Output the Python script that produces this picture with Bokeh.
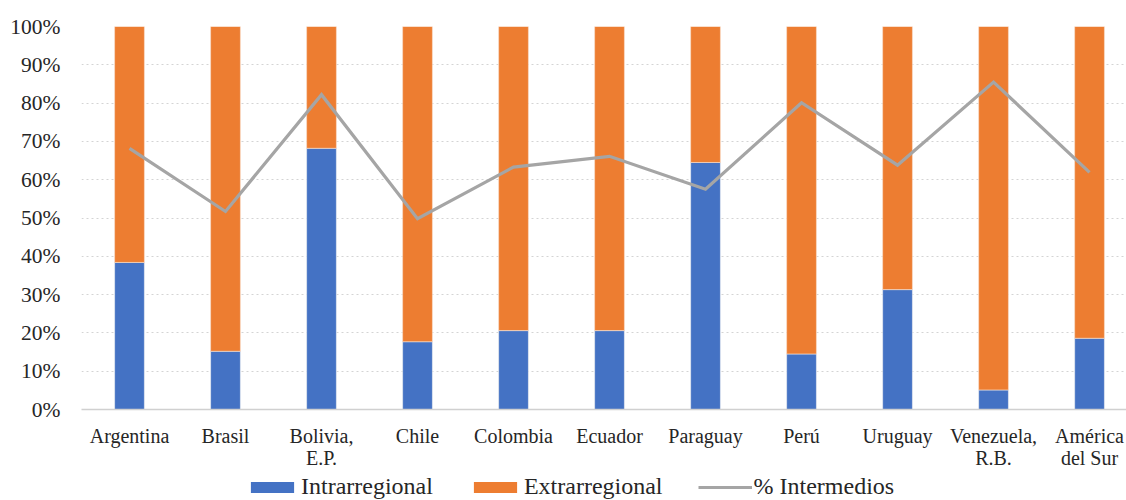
from bokeh.plotting import figure
from bokeh.layouts import column
from bokeh.models import (ColumnDataSource, Range1d, FixedTicker, NumeralTickFormatter,
                          Legend, LegendItem)
from bokeh.embed import file_html
from bokeh.resources import INLINE

# Trade composition by country (shares, %)
countries = ["Argentina", "Brasil", "Bolivia,\nE.P.", "Chile", "Colombia", "Ecuador",
             "Paraguay", "Perú", "Uruguay", "Venezuela,\nR.B.", "América\ndel Sur"]
intrarregional = [38.4, 15.2, 68.2, 17.7, 20.6, 20.6, 64.5, 14.5, 31.3, 5.1, 18.6]
extrarregional = [100 - v for v in intrarregional]
pct_intermedios = [68.2, 51.7, 82.2, 49.8, 63.3, 66.1, 57.5, 80.1, 63.8, 85.5, 61.9]
y_ticks = [0, 10, 20, 30, 40, 50, 60, 70, 80, 90, 100]
series_names = ["Intrarregional", "Extrarregional", "% Intermedios"]

FONT = "Liberation Serif"
BLUE = "#4472C4"
ORANGE = "#ED7D31"
GREY = "#A5A5A5"
TEXT = "#262626"

xs = list(range(len(countries)))
src = ColumnDataSource(dict(
    x=xs,
    intra=[v / 100 for v in intrarregional],
    total=[(a + b) / 100 for a, b in zip(intrarregional, extrarregional)],
    interm=[v / 100 for v in pct_intermedios],
))

p = figure(width=1126, height=473, output_backend="svg", toolbar_location=None,
           x_range=Range1d(-0.5, 10.385), y_range=Range1d(0, 1.0),
           min_border_left=81, min_border_right=0, min_border_top=26,
           min_border_bottom=64, outline_line_color=None)

bw = 0.31
p.vbar(x="x", bottom=0, top="intra", width=bw, source=src,
       fill_color=BLUE, line_color="#f4f4f4", line_width=0.6)
p.vbar(x="x", bottom="intra", top="total", width=bw, source=src,
       fill_color=ORANGE, line_color="#f8e0d0", line_width=0.6)
p.line(x="x", y="interm", source=src, line_color=GREY, line_width=3.2,
       line_join="miter")

# axes
p.yaxis.ticker = FixedTicker(ticks=[t / 100 for t in y_ticks])
p.yaxis.formatter = NumeralTickFormatter(format="0%")
p.yaxis.axis_line_color = None
p.yaxis.major_tick_line_color = None
p.yaxis.minor_tick_line_color = None
p.yaxis.major_label_text_font = FONT
p.yaxis.major_label_text_font_size = "21.5px"
p.yaxis.major_label_text_color = TEXT
p.yaxis.major_label_standoff = 15

p.xaxis.ticker = FixedTicker(ticks=xs)
p.xaxis.major_label_overrides = {i: c for i, c in enumerate(countries)}
p.xaxis.axis_line_color = "#D0D0D0"
p.xaxis.axis_line_width = 1.5
p.xaxis.major_tick_line_color = None
p.xaxis.minor_tick_line_color = None
p.xaxis.major_label_text_font = FONT
p.xaxis.major_label_text_font_size = "20px"
p.xaxis.major_label_text_color = TEXT
p.xaxis.major_label_standoff = 9
p.xaxis.major_label_text_line_height = 1.0

p.xgrid.grid_line_color = None
p.ygrid.grid_line_color = "#D4D4D4"
p.ygrid.grid_line_dash = "2 3"
p.ygrid.grid_line_width = 1.2

# legend strip under the chart; its keys sit outside the strip's visible range
lg = figure(width=1126, height=27, output_backend="svg", toolbar_location=None,
            x_axis_type=None, y_axis_type=None, outline_line_color=None,
            min_border=0, x_range=Range1d(0, 1), y_range=Range1d(0, 1))
lg.xgrid.visible = False
lg.ygrid.visible = False
keys = ColumnDataSource(dict(x=[5, 6], top=[5, 5], y=[5, 5]))
k_intra = lg.vbar(x="x", top="top", width=0.1, source=keys, fill_color=BLUE, line_color=None)
k_extra = lg.vbar(x="x", top="top", width=0.1, source=keys, fill_color=ORANGE, line_color=None)
k_line = lg.line(x="x", y="y", source=keys, line_color=GREY, line_width=3.2)

legend = Legend(items=[
    LegendItem(label=series_names[0], renderers=[k_intra]),
    LegendItem(label=series_names[1], renderers=[k_extra]),
    LegendItem(label=series_names[2], renderers=[k_line]),
], orientation="horizontal", location=(164, 0),
    label_text_font=FONT, label_text_font_size="24px", label_text_color=TEXT,
    glyph_width=54, glyph_height=14, spacing=35, label_standoff=2,
    border_line_color=None, background_fill_alpha=0, padding=0, margin=0)
lg.add_layout(legend, "center")

page = column(p, lg, spacing=0)
open("out.html", "w").write(file_html(page, INLINE))
